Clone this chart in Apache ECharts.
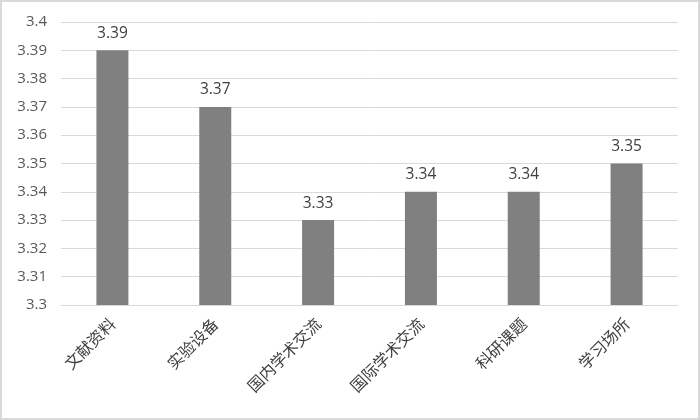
<!DOCTYPE html>
<html>
<head>
<meta charset="utf-8">
<script src="https://cdn.jsdelivr.net/npm/echarts@6/dist/echarts.min.js"></script>
<style>
  html, body { margin: 0; padding: 0; background: #fff; }
  #chart { width: 700px; height: 420px; box-sizing: border-box; border: 2px solid #d9d9d9; }
</style>
</head>
<body>
<div id="chart"></div>
<script>
const categories = ['文献资料', '实验设备', '国内学术交流', '国际学术交流', '科研课题', '学习场所'];
const scores = [3.39, 3.37, 3.33, 3.34, 3.34, 3.35];

const chart = echarts.init(document.getElementById('chart'));

chart.setOption({
  animation: false,
  grid: { left: 59, right: 20, top: 20, bottom: 113, containLabel: false },
  xAxis: {
    type: 'category',
    data: categories,
    axisLine: { show: true, lineStyle: { color: '#d9d9d9' } },
    axisTick: { show: false },
    axisLabel: {
      rotate: 45,
      margin: 16,
      color: '#404040',
      fontSize: 16,
      fontFamily: 'Noto Sans CJK SC'
    }
  },
  yAxis: {
    type: 'value',
    min: 3.3,
    max: 3.4,
    interval: 0.01,
    axisLine: { show: false },
    axisTick: { show: false },
    splitLine: { lineStyle: { color: '#d9d9d9', width: 1 } },
    axisLabel: {
      color: '#595959',
      fontSize: 15,
      fontFamily: 'Open Sans',
      margin: 14,
      formatter: v => String(+v.toFixed(2))
    }
  },
  series: [{
    type: 'bar',
    data: scores,
    barWidth: 32,
    itemStyle: { color: '#808080' },
    label: {
      show: true,
      position: 'top',
      distance: 9,
      color: '#404040',
      fontSize: 15.5,
      fontFamily: 'Open Sans',
      formatter: p => p.value.toFixed(2)
    }
  }]
});
</script>
</body>
</html>
